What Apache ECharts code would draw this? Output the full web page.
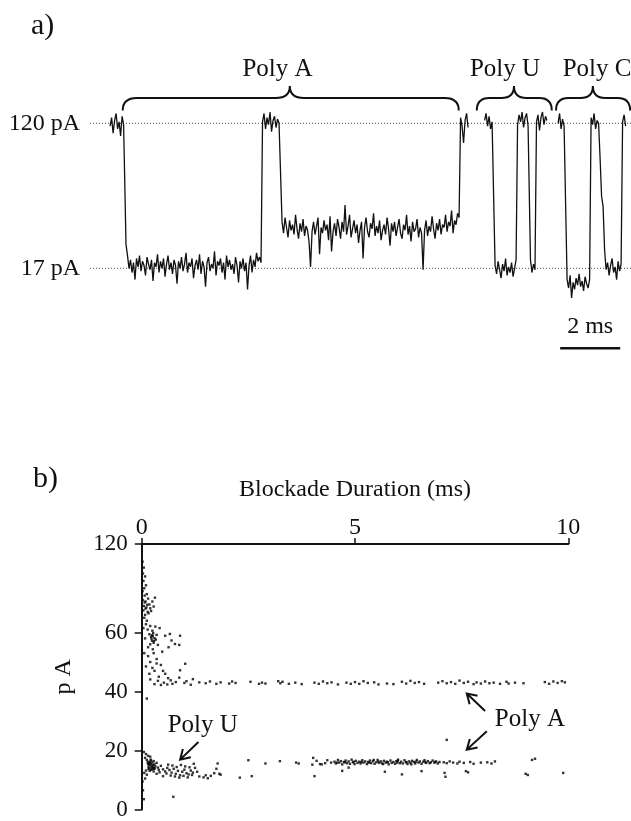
<!DOCTYPE html>
<html>
<head>
<meta charset="utf-8">
<script src="https://cdn.jsdelivr.net/npm/echarts@6.0.0/dist/echarts.min.js"></script>
<style>
  html, body { margin: 0; padding: 0; background: #fff; }
  #chart { width: 631px; height: 821px; }
</style>
</head>
<body>
<div id="chart"></div>
<script>
// ---- panel a: current trace (pA), sampled every 0.05 ms ----
const sampleMs = 0.05;

const polyAOpen1 = [118, 124, 113, 122, 127, 116, 121, 111, 125, 119];
const polyALow1 = [
  34, 26, 17, 23, 14, 21, 9, 24, 18, 26, 15, 22, 19, 12, 25, 20, 16, 23, 8, 21,
  18, 27, 14, 22, 17, 24, 11, 20, 26, 16, 21, 13, 23, 19, 6, 22, 17, 25, 15, 20,
  28, 14, 21, 18, 24, 10, 19, 23, 16, 27, 13, 22, 18, 4, 21, 25, 15, 20, 17, 29,
  12, 22, 19, 24, 14, 21, 9, 26, 18, 23, 16, 20, 13, 25, 19, 7, 22, 17, 24, 15,
  21, 2, 19, 26, 14, 23, 18, 28, 22, 25, 21
];
const polyAOpen2 = [121, 127, 116, 124, 119, 128, 114, 122, 125, 117, 123, 120];
const polyAMid = [
  50, 42, 53, 46, 39, 51, 44, 48, 41, 55, 45, 38, 49, 43, 52, 40, 47, 44, 36, 18,
  43, 50, 41, 47, 53, 27, 46, 42, 51, 44, 48, 37, 54, 29, 43, 49, 40, 52, 46, 38,
  50, 43, 62, 41, 47, 55, 39, 45, 51, 42, 48, 35, 44, 50, 24, 46, 53, 43, 39, 49,
  45, 56, 40, 47, 42, 51, 37, 44, 48, 41, 53, 45, 33, 49, 43, 50, 40, 46, 52, 42,
  38, 48, 44, 55, 41, 47, 36, 50, 43, 45, 52, 39, 46, 42, 16, 44, 51, 40, 47, 43,
  54, 45, 38, 49, 44, 52, 41, 48, 46, 55, 43, 50, 47, 58, 42, 51, 48, 56, 53
];
const polyAOpen3 = [124, 118, 106, 122, 127, 117];

const polyUOpen1 = [122, 127, 118, 125, 116, 121];
const polyULow1 = [19, 13, 22, 16, 10, 20, 15, 24, 12, 18, 14, 21, 11, 17, 23];
const polyUOpen2 = [119, 126, 121, 128, 117, 124, 127, 118];
const polyULow2 = [23, 14, 20, 16];
const polyUOpen3 = [121, 126, 115, 124, 128, 119, 125, 122];

const polyCOpen1 = [120, 127, 116, 123, 118];
const polyCLow1 = [9, 3, 12, -4, 7, 2, 10, 5, 13, 4, 8, 1, 11, 6, 3, 9];
const polyCOpen2 = [124, 119, 127, 116, 122, 120];
const polyCLow2 = [95, 68, 61, 30, 16, 21, 12, 19, 24, 14, 18, 9, 22, 15, 20];
const polyCOpen3 = [121, 126, 118];

// segment start times (ms)
const polyAStarts = [0.67, 1.2, 5.75, 6.4, 12.35];
const polyUStarts = [13.15, 13.5, 14.25, 14.68, 14.88];
const polyCStarts = [15.6, 15.9, 16.7, 17.0, 17.75];

const refLevels = [120, 17];
const refSpan = [0, 18.03];
const scaleBarMs = [15.67, 17.67];

const braceNames = ['Poly A', 'Poly U', 'Poly C'];
const braceStart = [1.09, 12.89, 15.53];
const braceEnd = [12.29, 15.39, 18.0];
const bracePeak = [6.66, 14.13, 16.76];
const braceTextX = [6.25, 13.83, 16.9];

// ---- panel b: blockade duration (ms) vs current (pA) ----
const upperCluster = [
  [0.02,84],[0.05,82],[0.03,80],[0.08,79],[0.04,77.5],[0.1,76],[0.06,75],[0.02,74],[0.12,73],[0.07,72.5],
  [0.03,71],[0.15,71.5],[0.09,70.5],[0.05,69],[0.18,69.5],[0.11,68.5],[0.04,67.5],[0.14,67],[0.2,68.2],[0.08,66],
  [0.16,66.5],[0.06,65],[0.25,70.5],[0.31,71.8],[0.12,64],[0.22,67.3],[0.28,68.8],[0.1,62.8],[0.04,61.5],[0.14,61],
  [0.2,62.2],[0.25,60.6],[0.18,59.4],[0.22,58.5],[0.27,59.8],[0.3,58.1],[0.24,57.2],[0.33,57.6],[0.28,56.5],[0.35,59.2],
  [0.2,56],[0.38,55.8],[0.15,55],[0.26,54.3],[0.32,62],[0.42,61.5],[0.55,58.9],[0.66,59.5],[0.7,57.3],[0.78,56.1],
  [0.9,58.9],[0.88,55.8],[0.63,55],[0.48,53.5],[0.28,53],[0.15,52],[0.35,51],[0.2,50],[0.45,49],[0.25,48],
  [0.5,47],[0.3,47],[0.9,47.2],[1.02,49.4],[0.18,46],[0.55,46],[0.4,45],[0.62,44.5],[0.12,37.6],[0.08,58],
  [0.06,53],[0.1,48.5],[0.35,49.5],[0.23,57.9],[0.26,58.8],[0.29,57.1],[0.24,59.1],[0.09,68.1],[0.13,69.4],[0.07,70.2]
];
const polyAUpperBand = [
  [0.2,44.1],[0.3,42.5],[0.38,43.6],[0.45,42.2],[0.52,43],[0.6,42.4],[0.68,43.8],[0.72,42.6],[0.8,43.2],[0.88,44.7],
  [1.0,42.9],[1.05,43.5],[1.15,42.3],[1.2,44.2],[1.35,43.1],[1.5,42.8],[1.6,43.4],[1.75,42.6],[1.85,43.1],[2.05,42.7],
  [2.12,43.4],[2.2,42.9],[2.55,43.3],[2.75,42.6],[2.82,43.0],[2.9,42.7],[3.2,43.5],[3.25,42.8],[3.3,43.3],[3.45,42.6],
  [3.6,43.0],[3.75,42.5],[4.05,43.0],[4.15,42.6],[4.25,43.4],[4.35,42.8],[4.45,43.1],[4.6,42.4],[4.8,43.0],[4.9,42.6],
  [5.0,43.2],[5.1,42.6],[5.2,43.5],[5.3,42.9],[5.45,43.1],[5.55,42.4],[5.75,42.7],[5.9,42.5],[6.1,43.3],[6.2,42.7],
  [6.3,43.6],[6.4,42.9],[6.5,43.2],[6.62,42.6],[6.95,43.0],[7.05,43.5],[7.15,42.8],[7.25,43.2],[7.35,42.6],[7.45,43.7],
  [7.55,42.9],[7.65,43.3],[7.78,42.5],[7.85,43.1],[7.95,42.7],[8.05,43.4],[8.15,42.8],[8.25,43.0],[8.4,42.6],[8.55,43.3],
  [8.6,42.7],[8.75,43.0],[8.95,42.8],[9.45,43.2],[9.55,42.6],[9.65,43.4],[9.75,42.9],[9.85,43.5],[9.92,43.1]
];
const polyUCluster = [
  [0.05,19.5],[0.1,18.8],[0.15,18.2],[0.08,17.5],[0.2,17.9],[0.12,16.8],[0.18,16.2],[0.22,16.6],[0.25,15.9],[0.28,16.4],
  [0.15,15.5],[0.2,15.1],[0.24,14.8],[0.3,15.3],[0.26,14.2],[0.32,14.6],[0.18,14],[0.35,15.8],[0.22,13.5],[0.3,13.8],
  [0.38,14.2],[0.4,13.4],[0.28,12.9],[0.45,14.8],[0.1,13.2],[0.06,12.4],[0.12,11.8],[0.42,12.6],[0.5,13.6],[0.55,12.9],
  [0.6,14.1],[0.58,12.2],[0.65,13.4],[0.7,12.5],[0.75,13.8],[0.8,12.1],[0.85,13.1],[0.9,11.6],[0.95,12.8],[1.0,13.5],
  [1.05,12.3],[1.1,11.9],[1.15,13.2],[1.2,12.5],[1.25,14.1],[1.3,12.8],[0.68,11.5],[0.78,11.2],[0.88,10.8],[0.98,11.4],
  [1.08,10.9],[1.18,11.7],[0.35,12.1],[0.5,11.3],[0.62,15.2],[0.72,14.9],[0.82,14.4],[0.92,15.1],[1.02,14.6],[1.12,14.3],
  [1.22,15.5],[1.35,11.2],[1.45,10.9],[1.5,11.6],[1.55,10.6],[1.62,11.4],[1.7,12.3],[1.75,13.8],[1.78,15.6],[1.82,12.1],
  [1.85,11.8],[0.02,9.5],[0.03,6.5],[0.05,3.5],[0.74,4.3],[0.08,10.5],[0.16,14.5],[0.21,15.6],[0.27,15.0],[0.19,13.1],
  [0.17,15.2],[0.23,14.3],[0.21,16.9],[0.14,16.0],[0.29,14.0],[0.19,15.8],[0.25,13.6],[0.16,13.7]
];
const polyALowerBand = [
  [2.3,10.8],[2.58,11.3],[2.5,16.7],[2.9,15.6],[3.24,16.4],[3.62,15.9],[3.68,15.6],[4.0,15.2],[4.02,17.5],[4.05,11.3],
  [4.1,16.5],[4.18,15.4],[4.22,15.3],[4.3,15.7],[4.35,16.7],[4.44,15.9],
  [4.52,16.2],[4.55,15.6],[4.6,16.8],[4.63,15.9],[4.67,16.4],[4.7,15.3],[4.74,16.1],[4.78,16.6],[4.81,15.7],[4.85,16.3],
  [4.88,15.5],[4.92,16.9],[4.95,16.0],[4.99,15.4],[5.02,16.5],[5.06,15.8],[5.1,16.2],[5.13,15.6],[5.17,16.7],[5.2,15.9],
  [5.24,16.3],[5.28,15.4],[5.31,16.1],[5.35,16.6],[5.38,15.7],[5.42,16.4],[5.46,15.5],[5.5,16.0],[5.53,16.8],[5.57,15.8],
  [5.61,16.3],[5.64,15.6],[5.68,16.5],[5.72,15.9],[5.75,16.2],[5.79,15.3],[5.83,16.6],[5.86,15.8],[5.9,16.1],[5.94,15.5],
  [5.97,16.4],[6.01,16.9],[6.05,15.7],[6.08,16.2],[6.12,15.6],[6.16,16.7],[6.19,16.0],[6.23,15.4],[6.27,16.3],[6.3,15.8],
  [6.34,16.5],[6.38,16.1],[6.41,15.6],[6.45,16.8],[6.49,15.9],[6.52,16.3],[6.56,15.5],[6.6,16.2],[6.63,16.7],[6.67,15.8],
  [6.71,16.4],[6.75,15.7],[6.78,16.0],[6.82,16.6],[6.86,15.9],[6.9,16.3],[6.94,15.6],[6.98,16.1],
  [4.58,15.9],[4.76,16.0],[4.97,16.2],[5.15,16.1],[5.33,15.9],[5.55,16.2],[5.77,16.0],[5.99,15.9],[6.21,16.1],[6.43,16.2],
  [6.65,16.0],[6.88,16.1],[5.44,16.8],[5.66,15.4],[6.0,16.5],[6.32,15.3],
  [7.08,16.0],[7.15,15.7],[7.22,16.3],[7.3,15.9],[7.4,15.6],[7.45,16.2],[7.55,15.8],[7.7,16.1],[7.78,15.5],[7.95,15.9],
  [8.1,16.0],[8.2,15.6],[8.28,16.3],
  [6.1,11.9],[6.56,13],[7.1,12.4],[7.12,11.1],[7.6,13.0],[7.65,12.6],[5.7,12.8],[4.7,13.1],[4.85,14.2],
  [9.15,16.8],[9.22,17.2],[9.0,12.1],[9.05,11.7],[9.88,12.4],[7.15,23.6]
];

const noteNames = ['Poly U', 'Poly A'];
const noteX = [1.43, 9.10];
const noteY = [28.6, 30.6];
// arrows: tail and tip, [ms, pA]
const arrowTail = [[1.33, 22.9], [8.05, 33.4], [8.09, 26.5]];
const arrowTip = [[0.90, 16.9], [7.62, 39.3], [7.62, 20.3]];

const serif = 'Liberation Serif';
const ink = '#111';

function buildTrace(starts, segments) {
  let pts = [];
  segments.forEach(function (seg, k) {
    seg.forEach(function (v, i) {
      pts.push([+(starts[k] + i * sampleMs).toFixed(3), v]);
    });
  });
  return pts;
}

// brace levels (pA)
const BRACE_END = 129, BRACE_FLAT = 138, BRACE_PEAK = 146.5, BRACE_TEXT = 158;

let myChart = echarts.init(document.getElementById('chart'));

function traceSeries(data) {
  return {
    type: 'line', xAxisIndex: 0, yAxisIndex: 0, data: data,
    symbol: 'none', lineStyle: { color: ink, width: 1.3 }, z: 3
  };
}

// plain text drawn through the axes
function textSeries(xIdx, pts, names, size) {
  return {
    type: 'custom', xAxisIndex: xIdx, yAxisIndex: xIdx, data: pts,
    encode: { x: 0, y: 1 },
    renderItem: function (params, api) {
      let p = api.coord([api.value(0), api.value(1)]);
      return {
        type: 'text', x: p[0], y: p[1],
        style: { text: names[params.dataIndex], font: size + 'px "Liberation Serif"', fill: ink, align: 'center', verticalAlign: 'middle' }
      };
    }
  };
}

let series = [];
refLevels.forEach(function (lv) {
  series.push({
    type: 'line', xAxisIndex: 0, yAxisIndex: 0, symbol: 'none',
    data: [[refSpan[0], lv], [refSpan[1], lv]],
    lineStyle: { color: '#444', width: 1, type: [1, 2] }, z: 2
  });
});
series.push(traceSeries(buildTrace(polyAStarts, [polyAOpen1, polyALow1, polyAOpen2, polyAMid, polyAOpen3])));
series.push(traceSeries(buildTrace(polyUStarts, [polyUOpen1, polyULow1, polyUOpen2, polyULow2, polyUOpen3])));
series.push(traceSeries(buildTrace(polyCStarts, [polyCOpen1, polyCLow1, polyCOpen2, polyCLow2, polyCOpen3])));

// scale bar
series.push({
  type: 'line', xAxisIndex: 0, yAxisIndex: 0, symbol: 'none',
  data: [[scaleBarMs[0], -39.8], [scaleBarMs[1], -39.8]],
  lineStyle: { color: ink, width: 2.5 }
});
series.push(textSeries(0, [[(scaleBarMs[0] + scaleBarMs[1]) / 2, -24.3]], ['2 ms'], 24));

// braces
series.push({
  type: 'custom', xAxisIndex: 0, yAxisIndex: 0,
  data: braceStart.map(function (s, i) { return [s, braceEnd[i], bracePeak[i], braceTextX[i]]; }),
  encode: { x: [0, 1], y: [] },
  renderItem: function (params, api) {
    let i = params.dataIndex;
    let a = api.coord([api.value(0), BRACE_END]);
    let b = api.coord([api.value(1), BRACE_END]);
    let pk = api.coord([api.value(2), BRACE_PEAK]);
    let yf = api.coord([api.value(0), BRACE_FLAT])[1];
    let txt = api.coord([api.value(3), BRACE_TEXT]);
    let r = Math.min(14, (b[0] - a[0]) / 6);
    let d = ['M', a[0], a[1], 'Q', a[0], yf, a[0] + r, yf, 'L', pk[0] - r, yf,
      'Q', pk[0], yf, pk[0], pk[1], 'Q', pk[0], yf, pk[0] + r, yf,
      'L', b[0] - r, yf, 'Q', b[0], yf, b[0], b[1]].join(' ');
    return {
      type: 'group',
      children: [
        { type: 'path', shape: { pathData: d }, style: { fill: 'none', stroke: ink, lineWidth: 2 } },
        { type: 'text', x: txt[0], y: txt[1],
          style: { text: braceNames[i], font: '25px "Liberation Serif"', fill: ink, align: 'center', verticalAlign: 'middle' } }
      ]
    };
  }
});

// panel b scatter
[upperCluster, polyAUpperBand, polyUCluster, polyALowerBand].forEach(function (pts) {
  series.push({
    type: 'scatter', xAxisIndex: 1, yAxisIndex: 1, data: pts,
    symbol: 'rect', symbolSize: 2.4, itemStyle: { color: '#000' }
  });
});

// notes and arrows
series.push(textSeries(1, noteX.map(function (x, i) { return [x, noteY[i]]; }), noteNames, 25));
series.push({
  type: 'custom', xAxisIndex: 1, yAxisIndex: 1,
  data: arrowTail.map(function (t, i) { return [t[0], t[1], arrowTip[i][0], arrowTip[i][1]]; }),
  encode: { x: [0, 2], y: [1, 3] },
  renderItem: function (params, api) {
    let t = api.coord([api.value(0), api.value(1)]);
    let h = api.coord([api.value(2), api.value(3)]);
    let ang = Math.atan2(t[1] - h[1], t[0] - h[0]);
    let L = 11, sp = 0.55;
    let h1 = [h[0] + L * Math.cos(ang + sp), h[1] + L * Math.sin(ang + sp)];
    let h2 = [h[0] + L * Math.cos(ang - sp), h[1] + L * Math.sin(ang - sp)];
    let d = ['M', t[0], t[1], 'L', h[0], h[1], 'M', h1[0], h1[1], 'L', h[0], h[1], 'L', h2[0], h2[1]].join(' ');
    return { type: 'path', shape: { pathData: d }, style: { fill: 'none', stroke: ink, lineWidth: 2 } };
  }
});

let option = {
  animation: false,
  backgroundColor: '#fff',
  title: [
    { text: 'a)', left: 26, top: 6, textStyle: { fontFamily: serif, fontSize: 30, fontWeight: 'normal', color: ink } },
    { text: 'b)', left: 28, top: 459, textStyle: { fontFamily: serif, fontSize: 30, fontWeight: 'normal', color: ink } }
  ],
  grid: [
    { left: 90, top: 52.9, width: 541, height: 337.9 },
    { left: 141.7, top: 544, width: 426.6, height: 268 }
  ],
  xAxis: [
    { gridIndex: 0, type: 'value', min: 0, max: 18.03, show: false },
    {
      gridIndex: 1, type: 'value', position: 'top', min: 0, max: 10, interval: 5,
      axisLine: { onZero: false, lineStyle: { color: ink, width: 2 } },
      axisTick: { length: 6, lineStyle: { color: ink, width: 1.5 } },
      axisLabel: { fontFamily: serif, fontSize: 24, color: ink, margin: 4 },
      splitLine: { show: false },
      name: 'Blockade Duration (ms)', nameLocation: 'middle', nameGap: 42,
      nameTextStyle: { fontFamily: serif, fontSize: 24, color: ink }
    }
  ],
  yAxis: [
    {
      gridIndex: 0, type: 'value', min: -70, max: 170,
      axisLine: { show: false }, axisTick: { show: false }, splitLine: { show: false },
      axisLabel: {
        customValues: refLevels, formatter: '{value} pA',
        fontFamily: serif, fontSize: 24, color: ink, margin: 10, padding: [0, 0, 9, 0]
      }
    },
    {
      gridIndex: 1, type: 'value', min: 0, max: 90,
      axisLine: { show: true, lineStyle: { color: ink, width: 2 } },
      axisTick: { show: true, customValues: [0, 20, 40, 60, 90], length: 7, lineStyle: { color: ink, width: 1.5 } },
      axisLabel: {
        customValues: [0, 20, 40, 60, 90],
        formatter: function (v) { return v === 90 ? '120' : String(v); },
        fontFamily: serif, fontSize: 23, color: ink, margin: 14
      },
      splitLine: { show: false },
      name: 'p A', nameLocation: 'middle', nameRotate: 90, nameGap: 66,
      nameTextStyle: { fontFamily: serif, fontSize: 24, color: ink }
    }
  ],
  series: series
};

myChart.setOption(option);
</script>
</body>
</html>
